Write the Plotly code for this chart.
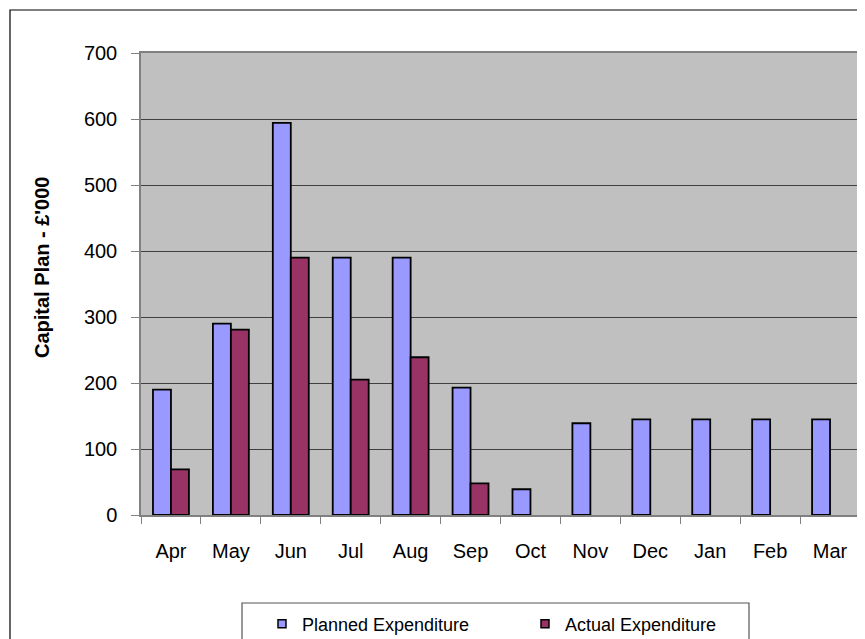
import plotly.graph_objects as go

months = ["Apr", "May", "Jun", "Jul", "Aug", "Sep", "Oct", "Nov", "Dec", "Jan", "Feb", "Mar"]
planned = [190, 290, 594, 390, 390, 193, 39, 139, 145, 145, 145, 145]
actual = [69, 281, 390, 205, 239, 48, None, None, None, None, None, None]
y_ticks = [0, 100, 200, 300, 400, 500, 600, 700]

OFF = 8  # default page body margin
W, H = 865 - OFF, 639 - OFF
L, T = 141 - OFF, 53 - OFF
R = W - (860 - OFF)
B = H - (515 - OFF)
pw, ph = W - L - R, H - T - B

def px_x(x):  # page pixel -> paper
    return (x - OFF - L) / pw

def px_y(y):
    return (H - B - (y - OFF)) / ph

def cont_y(y):  # page pixel -> container fraction
    return 1 - (y - OFF) / H

PLAN_C, ACT_C = "#9999FF", "#993366"

fig = go.Figure()
fig.add_trace(go.Bar(x=months, y=planned, name="Planned Expenditure", showlegend=False,
                     marker=dict(color=PLAN_C, line=dict(color="black", width=1.8))))
fig.add_trace(go.Bar(x=months, y=actual, name="Actual Expenditure", showlegend=False,
                     marker=dict(color=ACT_C, line=dict(color="black", width=1.8))))
# legend entries (small square keys)
for nm, c in [("Planned Expenditure", PLAN_C), ("Actual Expenditure", ACT_C)]:
    fig.add_trace(go.Scatter(x=[None], y=[None], mode="markers", name=nm,
                             marker=dict(symbol="square", size=8, color=c,
                                         line=dict(color="black", width=1.5))))

fig.update_layout(
    width=W, height=H,
    margin=dict(l=L, r=R, t=T, b=B, autoexpand=False),
    paper_bgcolor="white", plot_bgcolor="#C0C0C0",
    barmode="group", bargap=0.4, bargroupgap=0,
    font=dict(family="Liberation Sans, Arial, sans-serif", color="black"),
    showlegend=True,
    legend=dict(orientation="h", x=px_x(262), y=cont_y(624), yref="container",
                xanchor="left", yanchor="middle",
                borderwidth=0, bgcolor="rgba(0,0,0,0)",
                font=dict(size=18), entrywidth=218, entrywidthmode="pixels"),
    xaxis=dict(showline=True, linecolor="#808080", linewidth=1.5, mirror=True,
               ticks="outside", tickson="boundaries", ticklen=7, tickcolor="#808080",
               tickfont=dict(size=20), ticklabelstandoff=17, showgrid=False, fixedrange=True),
    yaxis=dict(range=[0, 700], tickvals=y_ticks, showline=True, linecolor="#808080",
               linewidth=1.5, mirror=True, ticks="outside", ticklen=8, tickcolor="#808080",
               tickfont=dict(size=20), ticklabelstandoff=10,
               showgrid=True, gridcolor="#404040", gridwidth=1,
               zeroline=False, fixedrange=True),
    shapes=[
        dict(type="rect", xref="paper", yref="paper",
             x0=px_x(10), x1=px_x(880), y0=px_y(10), y1=px_y(660),
             line=dict(color="black", width=1.2), layer="below"),
        dict(type="rect", xref="paper", yref="paper",
             x0=px_x(242), x1=px_x(749), y0=px_y(603), y1=px_y(660),
             line=dict(color="#555555", width=1.2), fillcolor="white", layer="below"),
    ],
    annotations=[
        dict(text="<b>Capital Plan - £'000</b>", xref="paper", yref="paper",
             x=px_x(42), y=px_y(267), showarrow=False, textangle=-90,
             font=dict(size=20), xanchor="center", yanchor="middle"),
    ],
)

fig.write_html("out.html")
